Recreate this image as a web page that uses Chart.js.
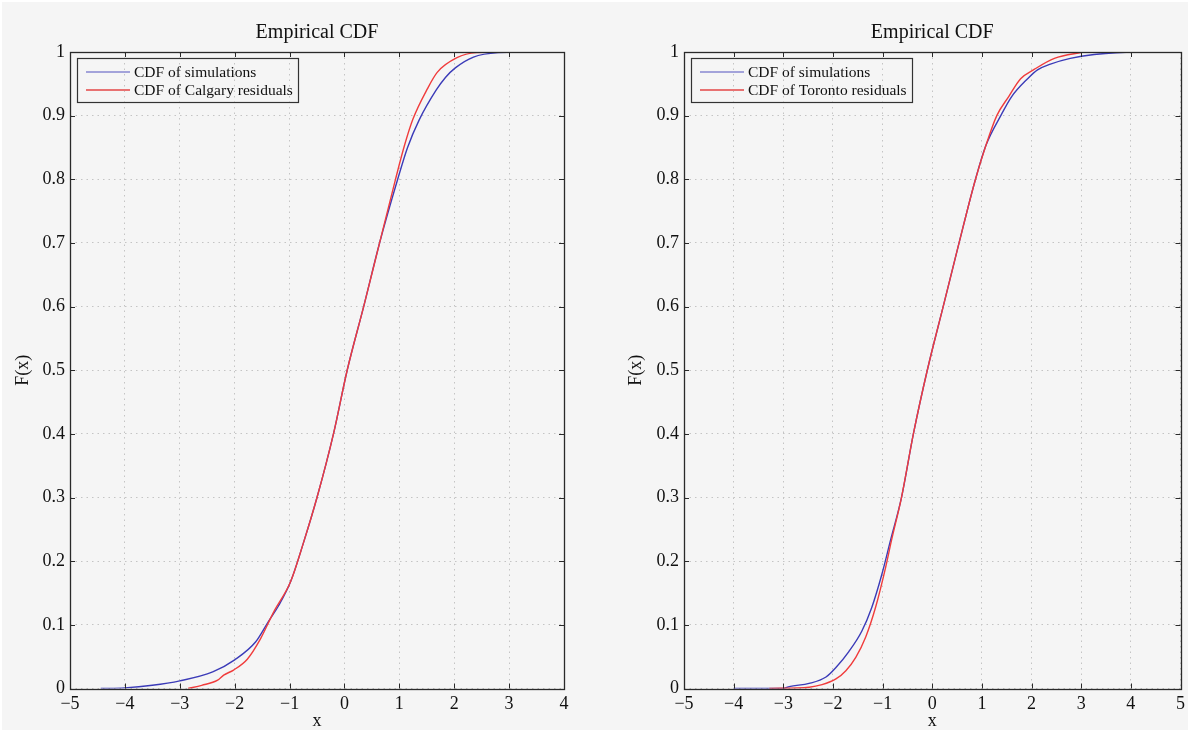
<!DOCTYPE html>
<html>
<head>
<meta charset="utf-8">
<script src="https://cdn.jsdelivr.net/npm/chart.js@4.4.1/dist/chart.umd.min.js"></script>
<style>
	html, body { margin: 0; padding: 0; background: #ffffff; }
	#page { position: absolute; left: 2px; top: 2px; width: 1186px; height: 728px; background: #f5f5f5; }
	canvas { position: absolute; top: 0; }
	#cdfLeft { left: -2px; }
	#cdfRight { left: 591px; }
</style>
</head>
<body>
<div id="page">
	<canvas id="cdfLeft" width="595" height="732"></canvas>
	<canvas id="cdfRight" width="597" height="732"></canvas>
</div>
<script>

// tick labels
var xTicksLeft = ['\u22125', '\u22124', '\u22123', '\u22122', '\u22121', '0', '1', '2', '3', '4'];
var xTicksRight = ['\u22125', '\u22124', '\u22123', '\u22122', '\u22121', '0', '1', '2', '3', '4', '5'];
var yTicks = ['0', '0.1', '0.2', '0.3', '0.4', '0.5', '0.6', '0.7', '0.8', '0.9', '1'];

// Calgary panel
var calgarySimX = [-4.44, -4.0, -3.5, -3.0, -2.4, -2.0, -1.62, -1.38, -1.2, -0.98, -0.75, -0.5, -0.2, 0.05, 0.35, 0.64, 0.97, 1.15, 1.36, 1.67, 1.84, 2.02, 2.35, 2.8, 3.33];
var calgarySimF = [0, 0.001, 0.005, 0.012, 0.026, 0.045, 0.073, 0.106, 0.13, 0.168, 0.228, 0.30, 0.40, 0.50, 0.60, 0.70, 0.80, 0.85, 0.893, 0.94, 0.96, 0.975, 0.992, 0.999, 1.0];
var calgaryResX = [-2.85, -2.6, -2.31, -2.2, -2.02, -1.77, -1.53, -1.29, -0.98, -0.75, -0.5, -0.2, 0.05, 0.35, 0.64, 0.93, 1.1, 1.25, 1.51, 1.69, 2.05, 2.4, 2.9];
var calgaryResF = [0, 0.005, 0.013, 0.021, 0.029, 0.046, 0.078, 0.12, 0.168, 0.228, 0.30, 0.40, 0.50, 0.60, 0.70, 0.80, 0.855, 0.895, 0.942, 0.968, 0.991, 0.999, 1.0];

// Toronto panel
var torontoSimX = [-4.0, -3.0, -2.88, -2.48, -2.14, -1.94, -1.68, -1.42, -1.22, -1.02, -0.84, -0.62, -0.38, -0.1, 0.22, 0.54, 0.86, 1.08, 1.38, 1.6, 1.92, 2.12, 2.38, 2.78, 3.26, 4.1, 4.66];
var torontoSimF = [0, 0, 0.003, 0.008, 0.018, 0.033, 0.058, 0.09, 0.127, 0.178, 0.233, 0.30, 0.40, 0.50, 0.60, 0.70, 0.797, 0.853, 0.90, 0.93, 0.958, 0.972, 0.981, 0.99, 0.996, 1.0, 1.0];
var torontoResX = [-3.28, -2.48, -2.22, -1.94, -1.74, -1.54, -1.34, -1.14, -0.94, -0.82, -0.62, -0.38, -0.1, 0.22, 0.54, 0.86, 1.08, 1.3, 1.54, 1.78, 2.06, 2.46, 3.05];
var torontoResF = [0, 0.002, 0.006, 0.015, 0.028, 0.049, 0.081, 0.128, 0.19, 0.233, 0.30, 0.40, 0.50, 0.60, 0.70, 0.797, 0.853, 0.90, 0.93, 0.958, 0.973, 0.99, 1.0];

var serif = "'Liberation Serif', 'Times New Roman', serif";

function toPoints(xs, fs){
	var pts = [];
	for (var i = 0; i < xs.length; i++){ pts.push({x: xs[i], y: fs[i]}); }
	return pts;
}

// box, inward ticks, title and legend drawn in the matlab way
var matlabFrame = {
	id: 'matlabFrame',
	afterDraw: function(chart){
		var ctx = chart.ctx;
		var a = chart.chartArea;
		var xs = chart.scales.x;
		var ys = chart.scales.y;
		var opt = chart.options.plugins.matlabFrame;

		ctx.save();
		ctx.strokeStyle = '#2a2a2a';
		ctx.lineWidth = 1;
		ctx.beginPath();
		xs.ticks.forEach(function(t){
			var px = Math.round(xs.getPixelForValue(t.value)) + 0.5;
			ctx.moveTo(px, a.bottom); ctx.lineTo(px, a.bottom - 5);
			ctx.moveTo(px, a.top); ctx.lineTo(px, a.top + 5);
		});
		ys.ticks.forEach(function(t){
			var py = Math.round(ys.getPixelForValue(t.value)) + 0.5;
			ctx.moveTo(a.left, py); ctx.lineTo(a.left + 5, py);
			ctx.moveTo(a.right, py); ctx.lineTo(a.right - 5, py);
		});
		ctx.stroke();
		ctx.lineWidth = 1.3;
		ctx.strokeRect(Math.round(a.left) + 0.5, Math.round(a.top) + 0.5, Math.round(a.right - a.left), Math.round(a.bottom - a.top));

		// title
		ctx.fillStyle = '#111111';
		ctx.font = '20px ' + serif;
		ctx.textAlign = 'center';
		ctx.textBaseline = 'middle';
		ctx.fillText(opt.title, (a.left + a.right) / 2, 31);

		// legend
		ctx.font = '15.5px ' + serif;
		ctx.textAlign = 'left';
		var ds = chart.data.datasets;
		var w = 0;
		ds.forEach(function(d){ w = Math.max(w, ctx.measureText(d.label).width); });
		var bx = a.left + 7, by = a.top + 6;
		var bw = Math.round(w + 62), bh = 44;
		ctx.lineWidth = 1.2;
		ctx.strokeStyle = '#333333';
		ctx.strokeRect(bx + 0.5, by + 0.5, bw, bh);
		ds.forEach(function(d, i){
			var ly = by + 14 + i * 18;
			ctx.strokeStyle = d.legendColor;
			ctx.lineWidth = 2;
			ctx.beginPath();
			ctx.moveTo(bx + 9, ly); ctx.lineTo(bx + 53, ly);
			ctx.stroke();
			ctx.fillStyle = '#111111';
			ctx.fillText(d.label, bx + 57, ly + 1);
		});
		ctx.restore();
	}
};

function init_cdf_chart(canvasId, title, xMax, xTicks, yWidth, yTitlePad, padRight, simLabel, simX, simF, resLabel, resX, resF){

	if( typeof (Chart) === 'undefined'){ return; }

	var settings = {
		type: 'line',
		data: {
			datasets: [{
				label: simLabel,
				data: toPoints(simX, simF),
				borderColor: '#3b3bb8',
				legendColor: '#a3a3da',
				borderWidth: 1.4,
				pointRadius: 0,
				cubicInterpolationMode: 'monotone',
				order: 2
			}, {
				label: resLabel,
				data: toPoints(resX, resF),
				borderColor: '#f03c3c',
				legendColor: '#e87272',
				borderWidth: 1.4,
				pointRadius: 0,
				cubicInterpolationMode: 'monotone',
				order: 1
			}]
		},
		options: {
			responsive: false,
			animation: false,
			devicePixelRatio: 1,
			layout: { padding: { top: 50, right: padRight, left: 0, bottom: 0 } },
			plugins: {
				legend: { display: false },
				tooltip: { enabled: false },
				matlabFrame: { title: title }
			},
			scales: {
				x: {
					type: 'linear',
					min: -5,
					max: xMax,
					afterFit: function(scale){ scale.height = 45.5; },
					ticks: {
						stepSize: 1,
						padding: 5,
						color: '#111111',
						font: { family: serif, size: 18 },
						maxRotation: 0,
						callback: function(v){ return xTicks[Math.round(v) + 5]; }
					},
					grid: { color: '#c4c4c4', lineWidth: 1, drawTicks: false },
					border: { display: false, dash: [1.5, 4] },
					title: { display: true, text: 'x', color: '#111111', font: { family: serif, size: 18 }, padding: { top: 0, bottom: 2 } }
				},
				y: {
					min: 0,
					max: 1,
					afterFit: function(scale){ scale.width = yWidth; },
					ticks: {
						stepSize: 0.1,
						padding: 5,
						color: '#111111',
						font: { family: serif, size: 18 },
						callback: function(v){ return yTicks[Math.round(v * 10)]; }
					},
					grid: { color: '#c4c4c4', lineWidth: 1, drawTicks: false },
					border: { display: false, dash: [1.5, 4] },
					title: { display: true, text: 'F(x)', color: '#111111', font: { family: serif, size: 18 }, padding: { top: yTitlePad, bottom: 0 } }
				}
			}
		},
		plugins: [matlabFrame]
	};

	var chart_cdf = new Chart(document.getElementById(canvasId), settings);
}

init_cdf_chart('cdfLeft', 'Empirical CDF', 4, xTicksLeft, 70, 12, 31,
	'CDF of simulations', calgarySimX, calgarySimF,
	'CDF of Calgary residuals', calgaryResX, calgaryResF);

init_cdf_chart('cdfRight', 'Empirical CDF', 5, xTicksRight, 91, 32, 6,
	'CDF of simulations', torontoSimX, torontoSimF,
	'CDF of Toronto residuals', torontoResX, torontoResF);

</script>
</body>
</html>
